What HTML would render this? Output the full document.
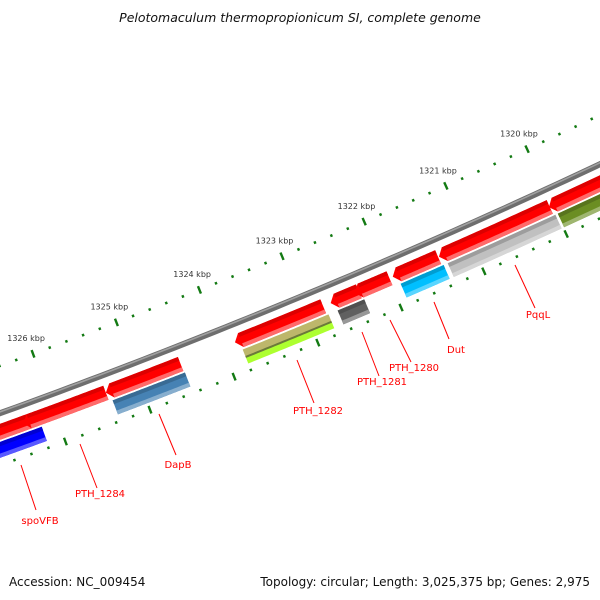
<!DOCTYPE html>
<html><head><meta charset="utf-8">
<style>
html,body{margin:0;padding:0;background:#fff;}
svg{display:block;font-family:"DejaVu Sans","Liberation Sans",sans-serif;}
</style></head>
<body>
<svg id="map" width="600" height="600" viewBox="0 0 600 600" xmlns="http://www.w3.org/2000/svg">
<rect width="600" height="600" fill="#fff"/>
<text x="300" y="22" text-anchor="middle" font-size="12.5" font-style="italic" fill="#111">Pelotomaculum thermopropionicum SI, complete genome</text>
<g id="arcs"></g>
<g id="labels"></g>
<text x="9" y="586" font-size="12" fill="#111">Accession: NC_009454</text>
<text x="590" y="586" text-anchor="end" font-size="12" fill="#111">Topology: circular; Length: 3,025,375 bp; Genes: 2,975</text>
</svg>
<script>
// feature data (kbp positions)
const redStarts = [1327.6, 1326.30, 1325.32, 1323.78, 1322.63, 1322.34, 1321.88, 1321.32, 1319.98];
const redEnds   = [1326.30, 1325.39, 1324.50, 1322.79, 1322.36, 1321.99, 1321.40, 1320.04, 1318.40];
const geneNames = ["spoVFB","DapB","PTH_1282","PTH_1281","Dut","PqqL","gene-next"];
const geneStarts = [1327.6, 1325.35, 1323.80, 1322.66, 1321.90, 1321.33, 1319.99];
const geneEnds   = [1326.19, 1324.49, 1322.77, 1322.34, 1321.38, 1320.02, 1318.40];
const geneColors = ["#0000ff","#4682b4","#bdb76b","#606060","#00bfff","#c0c0c0","#6b8e23"];
const geneColors2 = [null,null,"#adff2f",null,null,null,null];
const tickLabels = [1326,1325,1324,1323,1322,1321,1320];

const NS="http://www.w3.org/2000/svg";
const CX=-2353, CY=-6104, R0=6929, ROUT=6884.5, RIN=6978;
function th(k){return (65.27+(k-1320)*0.742)*Math.PI/180;}
function pt(k,r){const t=th(k);return [CX+r*Math.cos(t),CY+r*Math.sin(t)];}
function arcPts(a,b,r,n){const p=[];for(let i=0;i<=n;i++){p.push(pt(a+(b-a)*i/n,r));}return p;}
const g=document.getElementById('arcs');
function mk(tag,attrs){const e=document.createElementNS(NS,tag);for(const k in attrs)e.setAttribute(k,attrs[k]);g.appendChild(e);return e;}
function band(a,b,r1,r2,fill,arrow){
  let p=arcPts(a,b,r1,30);
  let q=arcPts(b,a,r2,30);
  let pts=p.concat(q);
  if(arrow){pts.push(pt(a+0.07,(r1+r2)/2));}
  return mk('polygon',{points:pts.map(x=>x[0].toFixed(2)+','+x[1].toFixed(2)).join(' '),fill:fill});
}
function lighten(c,f){const n=parseInt(c.slice(1),16);let r=n>>16,gg=(n>>8)&255,b=n&255;
  r=Math.round(r+(255-r)*f);gg=Math.round(gg+(255-gg)*f);b=Math.round(b+(255-b)*f);return 'rgb('+r+','+gg+','+b+')';}
function darken(c,f){const n=parseInt(c.slice(1),16);let r=n>>16,gg=(n>>8)&255,b=n&255;
  return 'rgb('+Math.round(r*f)+','+Math.round(gg*f)+','+Math.round(b*f)+')';}

// backbone
let bb=arcPts(1328,1318,R0,80).map(x=>x.join(',')).join(' ');
let e=mk('polyline',{points:bb,fill:'none',stroke:'#6e6e6e','stroke-width':6});


e=mk('polyline',{points:arcPts(1328,1318,R0-1.3,80).map(x=>x.join(',')).join(' '),fill:'none',stroke:'#a0a0a0','stroke-width':1.6});



// ticks
function ticks(r,name){
  for(let i=0;;i++){const k=1318+i*0.2; if(k>1328.01)break;
    const major=Math.abs(k-Math.round(k))<0.01;
    const a=pt(k,r-(major?4:1.3)),b=pt(k,r+(major?4:1.3));
    const t=mk('line',{x1:a[0],y1:a[1],x2:b[0],y2:b[1],stroke:'#137a13','stroke-width':2.4});
    
    
  }
}
ticks(ROUT,'outer-tick');
ticks(RIN,'inner-tick');
const lg=document.getElementById('labels');
tickLabels.forEach(k=>{const p=pt(k,ROUT-17);
  const t=document.createElementNS(NS,'text');
  t.setAttribute('x',p[0]-1);t.setAttribute('y',p[1]+3);t.setAttribute('text-anchor','middle');
  t.setAttribute('font-size','8');t.setAttribute('fill','#333');t.textContent=k+' kbp';
  
  
  lg.appendChild(t);});

// red features (row 1)
for(let i=0;i<redStarts.length;i++){
  const a=redStarts[i],b=redEnds[i];
  const m=band(a,b,R0+10,R0+25,'#ff0000',true);
  
  
  const d=band(a,b,R0+10,R0+14,'#dd0000',false);
  
  
  const l=band(a,b,R0+21,R0+25,'#ff6a6a',false);
  
  
}
// gene features (row 2)
for(let i=0;i<geneStarts.length;i++){
  const a=geneStarts[i],b=geneEnds[i],c=geneColors[i],c2=geneColors2[i];
  if(c2){
    const m1=band(a,b,R0+27,R0+35,c,false);
    
    
    const m2=band(a,b,R0+35,R0+42,c2,false);
    
    
    const s=band(a,b,R0+34,R0+36,'#6b7a3a',false);
    
    
  } else {
    const m=band(a,b,R0+27,R0+42,c,false);
    
    
    const d=band(a,b,R0+27,R0+31,darken(c,0.82),false);
    
    
    const l=band(a,b,R0+38,R0+42,lighten(c,0.35),false);
    
    
  }
}
</script>
<script>
(function(){
const svg=document.getElementById('map');
const NS="http://www.w3.org/2000/svg";
const labelTexts=["spoVFB","PTH_1284","DapB","PTH_1282","PTH_1281","PTH_1280","Dut","PqqL"];
const L=[[21,465,36,510,40,524],[80,444,97,488,100,497],[159,414,176,455,178,468],[297,360,314,403,318,414],[362,332,379,376,382,385],[390,320,411,362,414,371],[434,302,449,339,456,353],[515,265,535,308,538,318]];
labelTexts.forEach((s,i)=>{
  const v=L[i];
  const ln=document.createElementNS(NS,'line');
  ln.setAttribute('x1',v[0]);ln.setAttribute('y1',v[1]);ln.setAttribute('x2',v[2]);ln.setAttribute('y2',v[3]);
  ln.setAttribute('stroke','#ff0000');ln.setAttribute('stroke-width','1');
  
  
  svg.appendChild(ln);
  const t=document.createElementNS(NS,'text');
  t.setAttribute('x',v[4]);t.setAttribute('y',v[5]);t.setAttribute('text-anchor','middle');
  t.setAttribute('font-size','10');t.setAttribute('fill','#ff0000');t.textContent=s;
  
  
  svg.appendChild(t);
});
})();
</script>
</body></html>
